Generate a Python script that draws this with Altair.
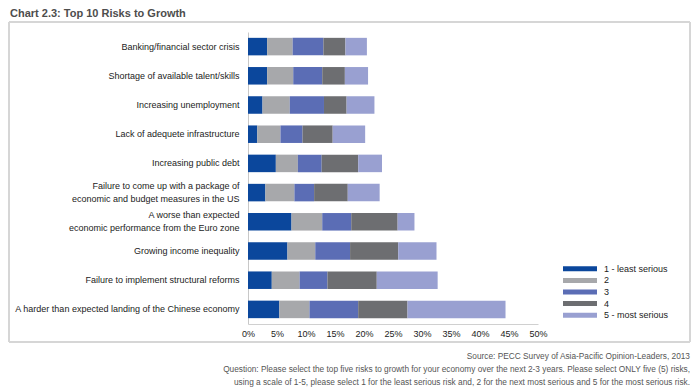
import altair as alt
import pandas as pd

categories = [
    "Banking/financial sector crisis",
    "Shortage of available talent/skills",
    "Increasing unemployment",
    "Lack of adequete infrastructure",
    "Increasing public debt",
    "Failure to come up with a package of |economic and budget measures in the US",
    "A worse than expected |economic performance from the Euro zone",
    "Growing income inequality",
    "Failure to implement structural reforms",
    "A harder than expected landing of the Chinese economy",
]
severity = ["1 - least serious", "2", "3", "4", "5 - most serious"]
s1 = [3.3, 3.3, 2.5, 1.6, 4.8, 3.0, 7.5, 6.8, 4.1, 5.4]
s2 = [4.4, 4.5, 4.7, 4.0, 3.8, 5.0, 5.3, 4.8, 4.8, 5.2]
s3 = [5.3, 5.0, 5.9, 3.8, 4.1, 3.4, 5.0, 6.0, 4.8, 8.4]
s4 = [3.8, 3.9, 3.9, 5.2, 6.3, 5.8, 8.0, 8.3, 8.5, 8.5]
s5 = [3.7, 4.0, 4.8, 5.6, 4.1, 5.5, 2.9, 6.6, 10.5, 16.9]
colors = ["#0b479c", "#a7a8ab", "#5b6db5", "#6d6e71", "#99a0d1"]
x_ticks = [0, 5, 10, 15, 20, 25, 30, 35, 40, 45, 50]

title_text = "Chart 2.3: Top 10 Risks to Growth"
footer_lines = [
    "Source: PECC Survey of Asia-Pacific Opinion-Leaders, 2013",
    "Question: Please select the top five risks to growth for your economy over the next 2-3 years. Please select ONLY five (5) risks,",
    "using a scale of 1-5, please select 1 for the least serious risk and, 2 for the next most serious and 5 for the most serious risk.",
]

FONT = "Liberation Sans"

rows = []
for series_i, series in enumerate([s1, s2, s3, s4, s5]):
    for cat, v in zip(categories, series):
        rows.append({"risk": cat, "sev": severity[series_i], "ord": series_i, "value": v})
df = pd.DataFrame(rows)

color_scale = alt.Scale(domain=severity, range=colors)

bars = alt.Chart(df).mark_bar().encode(
    y=alt.Y("risk:N", sort=categories, title=None,
            scale=alt.Scale(paddingInner=0.4, paddingOuter=0.2),
            axis=alt.Axis(labelExpr="split(datum.label, '|')", ticks=False,
                          domainColor="#c8c8c8", labelPadding=9, labelFont=FONT,
                          labelFontSize=9, labelColor="#222222", labelLineHeight=13,
                          labelLimit=300,
                          labelOffset={"condition": {"test": "indexof(datum.value, '|') >= 0",
                                                     "value": -6.5},
                                       "value": 0})),
    x=alt.X("value:Q", stack="zero", title=None,
            scale=alt.Scale(domain=[0, 50], nice=False),
            axis=alt.Axis(values=x_ticks, labelExpr="datum.value + '%'", ticks=False,
                          grid=False, domainColor="#d0d0d0", labelPadding=5,
                          labelFont=FONT, labelFontSize=9, labelColor="#222222",
                          labelFlush=False)),
    color=alt.Color("sev:N", scale=color_scale, legend=None),
    order=alt.Order("ord:Q"),
)

leg_df = pd.DataFrame({"sev": severity})
leg_y = alt.Y("sev:N", scale=alt.Scale(type="point", domain=severity, range=[231, 289]),
              axis=None)
leg_sym = alt.Chart(leg_df).mark_rule(strokeWidth=5, strokeCap="butt").encode(
    x=alt.value(315), x2=alt.value(349), y=leg_y,
    color=alt.Color("sev:N", scale=color_scale, legend=None))
leg_txt = alt.Chart(leg_df).mark_text(align="left", baseline="middle", font=FONT,
                                      fontSize=9, color="#222222").encode(
    x=alt.value(356), y=leg_y, text="sev:N")

one = pd.DataFrame({"t": [title_text]})
title = alt.Chart(one).mark_text(align="left", baseline="alphabetic", font=FONT,
                                 fontSize=11, fontWeight="bold", color="#4d4d4d").encode(
    text="t:N", x=alt.value(-238), y=alt.value(-15))

BL, BR, BT, BB = -239, 442, -10, 310
bstyle = dict(color="#d6d6d6", strokeWidth=2)
border = [
    alt.Chart(one).mark_rule(**bstyle).encode(x=alt.value(BL), x2=alt.value(BR), y=alt.value(BT)),
    alt.Chart(one).mark_rule(**bstyle).encode(x=alt.value(BL), x2=alt.value(BR), y=alt.value(BB)),
    alt.Chart(one).mark_rule(**bstyle).encode(x=alt.value(BL), y=alt.value(BT), y2=alt.value(BB)),
    alt.Chart(one).mark_rule(**bstyle).encode(x=alt.value(BR), y=alt.value(BT), y2=alt.value(BB)),
]

footers = []
for i, line in enumerate(footer_lines):
    fd = pd.DataFrame({"t": [line]})
    footers.append(alt.Chart(fd).mark_text(align="right", baseline="alphabetic", font=FONT,
                                           fontSize=8.3, color="#555555").encode(
        text="t:N", x=alt.value(442), y=alt.value(327 + 13 * i)))

chart = alt.layer(*border, bars, leg_sym, leg_txt, title, *footers).resolve_scale(
    y="independent"
).properties(
    width=290, height=292,
    autosize=alt.AutoSizeParams(type="none"),
    padding={"left": 240, "top": 24, "right": 154, "bottom": 66},
).configure_view(stroke=None)

chart.save("out.html", embed_options={"renderer": "svg", "actions": False})
